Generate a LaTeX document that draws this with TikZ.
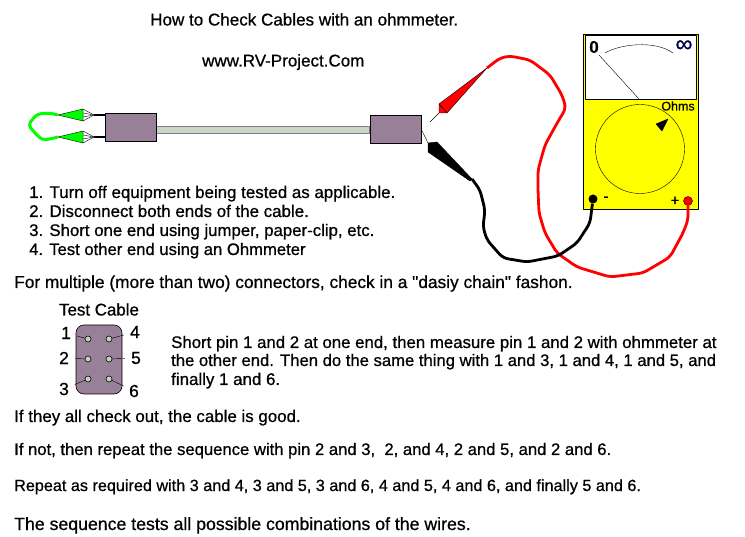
\documentclass[tikz,border=0pt]{standalone}
\usepackage{fontspec}
\setmainfont{Liberation Sans}[Ligatures=TeXOff, RawFeature={embolden=0.7}]
\usepackage{tikz}
\usetikzlibrary{positioning}
\definecolor{plugcolor}{rgb}{0.60,0.50,0.60}
\definecolor{pincolor}{rgb}{0.78,0.82,0.76}
\definecolor{cablecolor}{rgb}{0.80,0.84,0.78}
\definecolor{metercolor}{rgb}{1,1,0}
\definecolor{loopcolor}{rgb}{0,1,0}
\definecolor{leadred}{rgb}{1,0,0}

\begin{document}
\begin{tikzpicture}[
            x = 1pt,
            y = -1pt,
            node distance = 20pt, % distance between pins
            line join = round,
            txt/.style = {inner sep = 0pt, anchor = base west, font = \fontsize{#1}{18}\selectfont},
            txt/.default = 16.9,
            num/.style = {inner sep = 0pt, font = \fontsize{17.5}{19}\selectfont},
            plug/.style = {draw, thick, fill = plugcolor, minimum width = 51pt, minimum height = 28pt, inner sep = 0pt},
            pin/.style = {circle, draw, fill = pincolor, minimum size = 6pt, inner sep = 0pt, semithick},
            lead/.style = {line width = 2.8pt, rounded corners = 5pt},
            spike/.style = {thin}
        ]
        \useasboundingbox (0,0) rectangle (745,537);

        % titles
        \node[txt=17.05] (title) at (150,25.5) {How to Check Cables with an ohmmeter.};
        \node[txt=17] (site) at (202,66.5) {www.RV-Project.Com};

        % cable
        \node[plug] (PL) at (130.5,127.5) {};
        \node[plug] (PR) at (395.5,129.5) {};
        \draw[gray, fill = cablecolor] (PL.east |- 0,126) rectangle (PR.west |- 0,133);
        \node[plug] at (PL) {};
        \node[plug] at (PR) {};

        % green probes
        \foreach \name/\yy in {GA/115, GB/137} {
            \coordinate (\name) at (58,\yy);
            \draw[line width = 1.6pt] (94,\yy) -- (105,\yy);
            \draw[spike, fill = white] (83,\yy-6) -- (94,\yy) -- (83,\yy+6) -- cycle;
            \draw[spike] (83,\yy-2) -- (94,\yy) -- (83,\yy+2);
            \draw[fill = loopcolor] (\name) -- (83,\yy-6) -- (83,\yy+6) -- cycle;
        }
        \draw[loopcolor, line width = 3pt, rounded corners = 4pt] (GA) -- (50,113) -- (37,114) -- (28,125) -- (35,133)
            -- (42,140) -- (50,139) -- (GB);

        % instructions
        \node[txt] (s1) at (29,198) {1. Turn off equipment being tested as applicable.};
        \node[txt] (s2) at (29,217) {2. Disconnect both ends of the cable.};
        \node[txt=16.8] (s3) at (29,236) {3. Short one end using jumper, paper-clip, etc.};
        \node[txt=16.65] (s4) at (29,255) {4. Test other end using an Ohmmeter};
        \node[txt=17.3] (multi) at (14,288) {For multiple (more than two) connectors, check in a "dasiy chain" fashon.};

        % meter
        \node[draw, thick, fill = metercolor, minimum width = 115pt, minimum height = 175pt, inner sep = 0pt] (M) at (640.5,121.5) {};
        \node[draw, thick, fill = white, minimum width = 111pt, minimum height = 64pt, inner sep = 0pt] (W) at (640.5,67) {};
        \draw (605,53) .. controls (620,44) and (655,40) .. (673,53);
        \coordinate (pivot) at (639,99);
        \draw (599,55) -- (pivot);
        \node[inner sep = 0pt, font = \fontsize{17}{18}\selectfont\bfseries] (zero) at (594,47) {0};
        \node[inner sep = 0pt, font = \fontsize{24}{24}\selectfont, text = black!70!blue] (inf) at (684,46) {∞};
        \node[inner sep = 0pt, font = \fontsize{12.5}{14}\selectfont] (ohms) at (678,106) {Ohms};
        \node[draw, thin, circle, minimum size = 89pt, inner sep = 0pt] (D) at (640,149) {};
        \draw[fill = black] (668,119) -- (656,124) -- (662,131) -- cycle;
        \node[circle, fill = black, minimum size = 9pt, inner sep = 0pt] (NJ) at (593,199) {};
        \node[circle, draw, fill = leadred, minimum size = 9pt, inner sep = 0pt] (PJ) at (688,201) {};
        \node[inner sep = 0pt, font = \fontsize{15}{16}\selectfont] (minus) at (606,199) {-};
        \node[inner sep = 0pt, font = \fontsize{15}{16}\selectfont] (plus) at (675,201) {+};

        % probes on far end
        \coordinate (RP) at (487,68);
        \coordinate (BP) at (472,179);
        \draw[thin] (430,122) -- (439,113);
        \draw[thin] (PR.east) -- (428,143);
        \draw[fill = leadred, thin] (439,104) -- (447,113) -- (RP) -- cycle;
        \draw[fill = leadred, thin] (439,104) -- (439,113) -- (447,113) -- cycle;
        \draw[fill = black] (428,143) -- (437,142) -- (BP) -- (470,181) -- (428,152) -- cycle;

        % leads
        \draw[leadred, lead] (RP) -- (500,58) -- (510,56) -- (530,60) -- (550,75) -- (562,95) -- (566,108)
            -- (556,125) -- (545,145) -- (538,170) -- (538,190) -- (539,213) -- (545,233) -- (557,253) -- (577,267)
            -- (610,277) -- (643,273) -- (670,257) -- (683,233) -- (688,220) -- (PJ);
        \draw[black, lead] (BP) -- (480,190) -- (485,210) -- (483,227) -- (487,240) -- (503,258) -- (527,262)
            -- (558,256) -- (577,243) -- (590,223) -- (NJ);

        % test cable connector
        \node[txt, anchor = base] (tc) at (99,315.5) {Test Cable};
        \node[draw, semithick, fill = plugcolor, rounded corners = 8pt, minimum width = 46pt, minimum height = 69pt, inner sep = 0pt] (TC) at (99,359.5) {};
        \node[pin] (P1) at (88,339) {};
        \node[pin] (P2) [below of = P1] {};
        \node[pin] (P3) [below of = P2] {};
        \node[pin] (P4) [right of = P1, node distance = 21pt] {};
        \node[pin] (P5) [below of = P4] {};
        \node[pin] (P6) [below of = P5] {};
        \node[num] (N1) at (66,333) {1};
        \node[num] (N2) at (64,358) {2};
        \node[num] (N3) at (64,389) {3};
        \node[num] (N4) at (135,332) {4};
        \node[num] (N5) at (136,358) {5};
        \node[num] (N6) at (134,391) {6};
        \foreach \a/\b in {N1/P1, N2/P2, N3/P3, N4/P4, N5/P5, N6/P6}
            \draw (\a) edge[shorten <= 6pt] (\b);

        % text
        \node[txt=16.8] (t1) at (171,348) {Short pin 1 and 2 at one end, then measure pin 1 and 2 with ohmmeter at};
        \node[txt=16.65] (t2) at (171,366) {the other end. Then do the same thing with 1 and 3, 1 and 4, 1 and 5, and};
        \node[txt] (t3) at (171,385) {finally 1 and 6.};
        \node[txt] (t4) at (14,422) {If they all check out, the cable is good.};
        \node[txt=16.65] (t5) at (14,455) {If not, then repeat the sequence with pin 2 and 3,\ \ 2, and 4, 2 and 5, and 2 and 6.};
        \node[txt=16.2] (t6) at (14,491) {Repeat as required with 3 and 4, 3 and 5, 3 and 6, 4 and 5, 4 and 6, and finally 5 and 6.};
        \node[txt=17.7] (t7) at (14,530) {The sequence tests all possible combinations of the wires.};
\end{tikzpicture}
\end{document}
